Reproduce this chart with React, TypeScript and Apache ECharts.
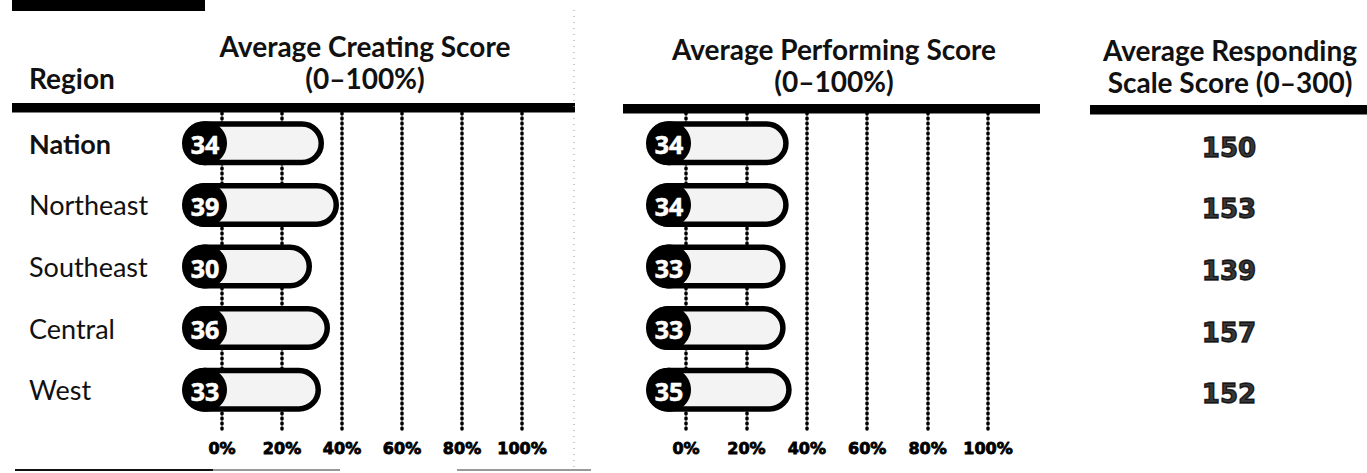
import React, { useEffect, useRef } from "react";
import * as echarts from "echarts";

const regions = ["Nation", "Northeast", "Southeast", "Central", "West"];
const creatingScores = [34, 39, 30, 36, 33];
const performingScores = [34, 34, 33, 33, 35];
const respondingScores = [150, 153, 139, 157, 152];
const creatingTitle = "Average Creating Score\n(0–100%)";
const performingTitle = "Average Performing Score\n(0–100%)";
const respondingTitle = "Average Responding\nScale Score (0–300)";
const regionTitle = "Region";

const HEAD_FONT = '700 28px Lato, "Open Sans", sans-serif';

function pillRenderer(params: any, api: any) {
  const v = api.value(0);
  const idx = api.value(1);
  const end = api.coord([v, idx]);
  const zero = api.coord([0, idx]);
  const h = 44;
  const x0 = zero[0] - 40;
  const yc = end[1];
  return {
    type: "group",
    children: [
      {
        type: "rect",
        shape: { x: x0 + 2.75, y: yc - h / 2 + 2.75, width: end[0] - x0 - 5.5, height: h - 5.5, r: (h - 5.5) / 2 },
        style: { fill: "#f3f3f3", stroke: "#000", lineWidth: 5.5 },
      },
      {
        type: "circle",
        shape: { cx: x0 + h / 2 + 1, cy: yc, r: h / 2 },
        style: { fill: "#000" },
      },
      {
        type: "text",
        x: x0 + h / 2 + 1,
        y: yc + 1,
        style: {
          text: String(v),
          fill: "#fff",
          font: '700 25px "Open Sans", sans-serif',
          stroke: "#fff",
          lineWidth: 0.6,
          align: "center",
          verticalAlign: "middle",
          textAlign: "center",
          textVerticalAlign: "middle",
        },
      },
    ],
  };
}

const dottedSplit = {
  show: true,
  lineStyle: { color: "#000", width: 3.5, type: [1, 4], cap: "round" },
};

const pctLabel = {
  formatter: "{value}%",
  fontFamily: '"DejaVu Sans", sans-serif',
  fontWeight: "bold",
  fontSize: 16,
  color: "#000",
  textBorderColor: "#000",
  textBorderWidth: 0.8,
  margin: 10,
};

function headText(text: string, x: number, y: number, align: string) {
  return {
    type: "text",
    x,
    y,
    style: {
      text,
      font: HEAD_FONT,
      fill: "#111",
      lineHeight: 32,
      align,
      textAlign: align,
      verticalAlign: "top",
      textVerticalAlign: "top",
    },
  };
}

export default function App() {
  const ref = useRef<HTMLDivElement>(null);
  useEffect(() => {
    document.body.style.margin = "0";
    const chart = echarts.init(ref.current!, null, { renderer: "svg" });
    const gridBase = { containLabel: false, outerBoundsMode: "none" };
    chart.setOption({
      animation: false,
      backgroundColor: "#fff",
      grid: [
        { ...gridBase, left: 222, width: 300, top: 112.5, height: 308 },
        { ...gridBase, left: 222, width: 300, top: 113, height: 317 },
        { ...gridBase, left: 686, width: 302, top: 112.5, height: 308 },
        { ...gridBase, left: 686, width: 302, top: 113, height: 317 },
        { ...gridBase, left: 1129, width: 200, top: 117, height: 308 },
      ],
      xAxis: [
        { gridIndex: 0, type: "value", min: 0, max: 100, show: false },
        {
          gridIndex: 1, type: "value", min: 0, max: 100, interval: 20,
          axisLine: { show: false }, axisTick: { show: false },
          splitLine: dottedSplit, axisLabel: pctLabel,
        },
        { gridIndex: 2, type: "value", min: 0, max: 100, show: false },
        {
          gridIndex: 3, type: "value", min: 0, max: 100, interval: 20,
          axisLine: { show: false }, axisTick: { show: false },
          splitLine: dottedSplit, axisLabel: pctLabel,
        },
        { gridIndex: 4, type: "value", min: 0, max: 1, show: false },
      ],
      yAxis: [
        {
          gridIndex: 0, type: "category", data: regions, inverse: true,
          axisLine: { show: false }, axisTick: { show: false }, splitLine: { show: false },
          axisLabel: {
            align: "left",
            margin: 193,
            formatter: (v: string, i: number) => (i === 0 ? `{b|${v}}` : `{n|${v}}`),
            rich: {
              b: { fontFamily: "Lato, sans-serif", fontWeight: "bold", fontSize: 27, color: "#111" },
              n: { fontFamily: "Lato, sans-serif", fontWeight: "normal", fontSize: 27, color: "#111" },
            },
          },
        },
        { gridIndex: 1, type: "value", min: 0, max: 1, show: false },
        { gridIndex: 2, type: "category", data: regions, inverse: true, show: false },
        { gridIndex: 3, type: "value", min: 0, max: 1, show: false },
        { gridIndex: 4, type: "category", data: regions, inverse: true, show: false },
      ],
      series: [
        {
          type: "custom", name: "Creating", xAxisIndex: 0, yAxisIndex: 0, z: 5,
          data: creatingScores.map((v, i) => [v, i]),
          renderItem: pillRenderer,
        },
        {
          type: "custom", name: "Performing", xAxisIndex: 2, yAxisIndex: 2, z: 5,
          data: performingScores.map((v, i) => [v, i]),
          renderItem: pillRenderer,
        },
        {
          type: "scatter", name: "Responding", xAxisIndex: 4, yAxisIndex: 4,
          symbolSize: 1, itemStyle: { color: "rgba(0,0,0,0)" },
          data: respondingScores.map((v, i) => [0.5, i, v]),
          label: {
            show: true, position: "inside",
            formatter: (p: any) => String(p.data[2]),
            fontFamily: '"DejaVu Sans", sans-serif', fontWeight: "bold", fontSize: 26,
            color: "#000", textBorderColor: "#000", textBorderWidth: 1.4,
          },
        },
      ],
      graphic: [
        { type: "rect", shape: { x: 12, y: 0, width: 193, height: 11 }, style: { fill: "#000" } },
        { type: "rect", shape: { x: 12, y: 103, width: 563, height: 9.5 }, style: { fill: "#000" } },
        { type: "rect", shape: { x: 623, y: 104, width: 417, height: 9.5 }, style: { fill: "#000" } },
        { type: "rect", shape: { x: 1090, y: 105, width: 277, height: 9.5 }, style: { fill: "#000" } },
        { type: "line", shape: { x1: 574, y1: 10, x2: 574, y2: 470 }, style: { stroke: "#999", lineWidth: 1, lineDash: [1, 5] } },
        { type: "rect", shape: { x: 15, y: 469, width: 198, height: 2 }, style: { fill: "#111" } },
        { type: "rect", shape: { x: 213, y: 469, width: 127, height: 2 }, style: { fill: "#999" } },
        { type: "rect", shape: { x: 457, y: 469, width: 134, height: 2 }, style: { fill: "#999" } },
        headText(regionTitle, 29, 62, "left"),
        headText(creatingTitle, 365, 30, "center"),
        headText(performingTitle, 834, 33, "center"),
        headText(respondingTitle, 1230, 34, "center"),
      ],
    });
    return () => chart.dispose();
  }, []);
  return <div ref={ref} style={{ width: 1367, height: 473 }} />;
}
